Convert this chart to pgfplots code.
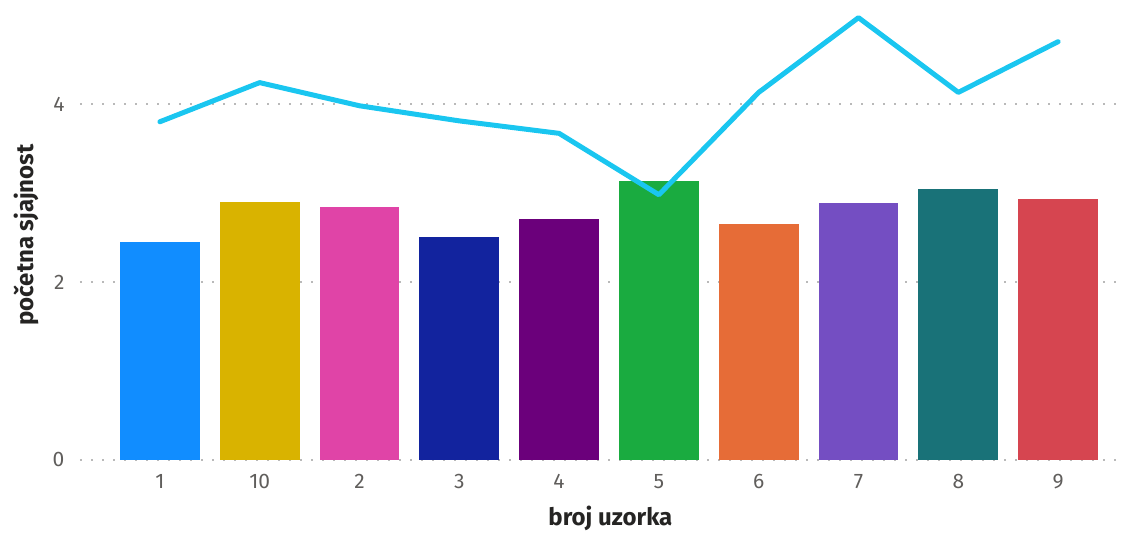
\documentclass[border=0pt]{standalone}
\usepackage{pgfplots}
\pgfplotsset{compat=1.18}
\usepackage{fontspec}
\setmainfont{Fira Sans}
\definecolor{c1}{HTML}{118DFF}
\definecolor{c2}{HTML}{D9B300}
\definecolor{c3}{HTML}{E044A7}
\definecolor{c4}{HTML}{12239E}
\definecolor{c5}{HTML}{6B007B}
\definecolor{c6}{HTML}{1AAB40}
\definecolor{c7}{HTML}{E66C37}
\definecolor{c8}{HTML}{744EC2}
\definecolor{c9}{HTML}{197278}
\definecolor{c10}{HTML}{D64550}
\definecolor{linec}{HTML}{1AC6F0}
\definecolor{tickc}{HTML}{605E5C}
\definecolor{labc}{HTML}{252423}
\begin{document}
\begin{tikzpicture}
\useasboundingbox (0,0) rectangle (1124pt,534pt);
\begin{axis}[
  at={(80pt,74pt)}, anchor=south west,
  scale only axis, width=1040pt, height=450pt,
  xmin=-0.8, xmax=9.62, ymin=0, ymax=5.056,
  xtick={0,...,9}, xticklabels={1,10,2,3,4,5,6,7,8,9},
  ytick={0,2,4},
  axis line style={draw=none},
  major tick length=0pt,
  ymajorgrids,
  grid style={draw=gray!55, line width=1.6pt, dash pattern=on 1.6pt off 9.4pt},
  ticklabel style={font=\fontsize{21}{25}\selectfont, text=tickc},
  /pgf/number format/assume math mode=true,
  xticklabel style={yshift=-11pt},
  yticklabel style={xshift=-12pt},
  xlabel={broj uzorka}, ylabel={početna sjajnost},
  label style={font=\fontsize{24}{28}\selectfont\bfseries, text=labc},
  xlabel style={at={(axis description cs:0.51,0)}, anchor=north, yshift=-43pt},
  ylabel style={at={(axis description cs:0,0.5)}, anchor=south, yshift=38pt},
  ybar, bar width=0.8, bar shift=0pt,
  clip=false,
]
\addplot[fill=c1, draw=none] coordinates {(0,2.45)};
\addplot[fill=c2, draw=none] coordinates {(1,2.90)};
\addplot[fill=c3, draw=none] coordinates {(2,2.84)};
\addplot[fill=c4, draw=none] coordinates {(3,2.51)};
\addplot[fill=c5, draw=none] coordinates {(4,2.71)};
\addplot[fill=c6, draw=none] coordinates {(5,3.13)};
\addplot[fill=c7, draw=none] coordinates {(6,2.65)};
\addplot[fill=c8, draw=none] coordinates {(7,2.89)};
\addplot[fill=c9, draw=none] coordinates {(8,3.04)};
\addplot[fill=c10, draw=none] coordinates {(9,2.93)};
\addplot[sharp plot, draw=linec, line width=5pt, line join=round, line cap=round, mark=none] coordinates {
(0,3.80) (1,4.24) (2,3.98) (3,3.81) (4,3.67) (5,2.98) (6,4.13) (7,4.97) (8,4.13) (9,4.70)};
\end{axis}
\end{tikzpicture}
\end{document}
